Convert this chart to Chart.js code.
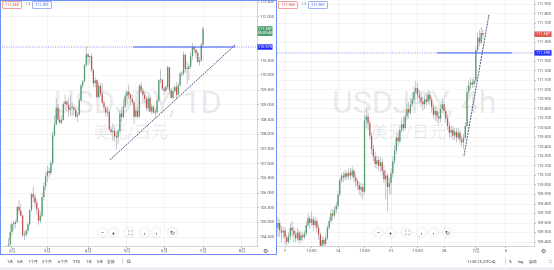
<!DOCTYPE html>
<html><head><meta charset="utf-8">
<script src="https://cdn.jsdelivr.net/npm/chart.js@4.4.1/dist/chart.umd.min.js"></script>
<style>
html,body{margin:0;padding:0;background:#fff;width:554px;height:270px;overflow:hidden;font-family:Roboto,'Noto Sans CJK SC',sans-serif;}
.a{position:absolute;white-space:nowrap;}
canvas{position:absolute;}
.wm{position:absolute;color:rgba(120,123,134,0.16);font-family:Roboto,'Noto Sans CJK SC',sans-serif;white-space:nowrap;line-height:1;}
.btn{position:absolute;width:9px;height:9px;border-radius:50%;background:#fff;box-shadow:0 0 1.5px rgba(0,0,0,0.25);color:#333;font-size:6px;line-height:9px;text-align:center;}
.tb{position:absolute;top:259px;font-size:3.8px;color:#333;white-space:nowrap;}
.box{position:absolute;top:1px;height:6px;font-size:3.8px;line-height:6px;padding:0 2px;border:0.6px solid;border-radius:1px;white-space:nowrap;}
</style></head><body>

<div class="wm" style="left:54px;top:86px;font-size:32px;">USDJPY, 1D</div>
<div class="wm" style="left:93px;top:124px;font-size:17px;">美元/日元</div>
<div class="wm" style="left:332px;top:86px;font-size:32px;">USDJPY, 4h</div>
<div class="wm" style="left:371px;top:124px;font-size:17px;">美元/日元</div>

<canvas id="left" width="275" height="255" style="left:2px;top:0px;width:275px;height:255px"></canvas>
<canvas id="right" width="277" height="255" style="left:277px;top:0px;width:277px;height:255px"></canvas>

<div class="a" style="left:0;top:0;width:275px;height:253px;border:1.2px solid #6d90f2;pointer-events:none;"></div>

<div class="box" style="left:2px;border-color:#f2a19e;color:#e0504b">111.580</div>
<div class="a" style="left:25px;top:1px;font-size:3.8px;line-height:6px;color:#777">1.3</div>
<div class="box" style="left:32px;border-color:#9fb1f6;color:#3a5cf5">111.591</div>
<div class="box" style="left:278px;border-color:#f2a19e;color:#e0504b">111.580</div>
<div class="a" style="left:301px;top:1px;font-size:3.8px;line-height:6px;color:#777">1.3</div>
<div class="box" style="left:308px;border-color:#9fb1f6;color:#3a5cf5">111.591</div>

<div class="btn" style="left:98px;top:228px">−</div>
<div class="btn" style="left:109px;top:228px">+</div>
<div class="btn" style="left:125px;top:228px">⛶</div>
<div class="btn" style="left:140px;top:228px">‹</div>
<div class="btn" style="left:152px;top:228px">›</div>
<div class="btn" style="left:168px;top:228px">↻</div>
<div class="btn" style="left:374px;top:228px">−</div>
<div class="btn" style="left:386px;top:228px">+</div>
<div class="btn" style="left:402px;top:228px">⛶</div>
<div class="btn" style="left:417px;top:228px">‹</div>
<div class="btn" style="left:429px;top:228px">›</div>
<div class="btn" style="left:443px;top:228px">↻</div>

<div class="a" style="left:263px;top:247px;font-size:6px;color:#555">⚙</div>
<div class="a" style="left:541px;top:247px;font-size:6px;color:#555">⚙</div>

<div class="tb" style="left:7px">1天</div>
<div class="tb" style="left:17px">5天</div>
<div class="tb" style="left:28px">1个月</div>
<div class="tb" style="left:42px">3个月</div>
<div class="tb" style="left:58px">6个月</div>
<div class="tb" style="left:73px">YTD</div>
<div class="tb" style="left:86px">1年</div>
<div class="tb" style="left:97px">5年</div>
<div class="tb" style="left:107px">全部</div>
<div class="a" style="left:122px;top:258px;width:0.6px;height:7px;background:#d5d7dc"></div>
<div class="tb" style="left:127px;font-size:5px;top:258px">⧉</div>
<div class="tb" style="left:467px">11:50:15 (UTC-4)</div>
<div class="a" style="left:505px;top:258px;width:0.6px;height:7px;background:#d5d7dc"></div>
<div class="tb" style="left:509px">%</div>
<div class="tb" style="left:518px">log</div>
<div class="tb" style="left:529px">自动</div>
<div class="tb" style="left:549px">⛶</div>
<div class="a" style="left:0;top:267px;width:554px;height:3px;background:#eceef2"></div>

<script>
// ---------- LEFT: USDJPY 1D (x = trading-day index, 0 = 2021-02-01) ----------
const leftTickIdx = [0, 20, 43, 65, 86, 108, 130];
const leftTickLabels = ['2月', '3月', '4月', '5月', '6月', '7月', '8月'];
const leftPriceTicks = [112.5, 112.0, 110.5, 110.0, 109.5, 109.0, 108.5, 108.0, 107.5, 107.0, 106.5, 106.0, 105.5, 105.0, 104.5];
const leftStart = -4;
const leftFirstOpen = 103.60;
const leftClose = [103.68,104.08,104.25,104.68,
 104.95,104.95,105.02,105.53,105.40,105.23,104.57,104.58,104.72,104.94,105.42,105.97,105.86,105.68,105.44,105.06,105.23,105.87,106.23,106.58,
 106.75,106.68,107.02,107.96,108.33,108.90,108.50,108.40,108.49,109.03,109.12,109.01,108.84,108.90,108.91,108.84,108.61,108.67,109.16,109.66,109.80,110.36,110.72,
 110.63,110.65,110.19,109.74,109.84,109.27,109.65,109.38,109.07,108.92,108.74,108.77,108.16,108.08,108.11,107.93,107.89,108.11,108.71,108.59,108.95,109.31,
 109.44,109.35,109.21,109.09,108.60,108.80,108.60,109.65,109.48,109.35,109.21,108.89,109.22,108.78,108.94,108.74,108.75,109.15,109.84,109.85,109.56,
 109.48,109.61,110.28,109.50,109.24,109.47,109.61,109.35,109.67,110.06,110.06,110.71,110.23,110.22,110.32,110.66,110.97,110.88,110.77,110.46,110.51,111.05,111.59];
const leftHigh = [103.85,104.16,104.47,104.94,
 105.00,105.06,105.08,105.58,105.76,105.64,105.27,104.70,104.78,105.02,105.45,106.01,106.22,105.95,105.80,105.51,105.37,106.00,106.38,106.69,
 106.92,106.86,107.11,108.09,108.64,109.23,109.02,108.85,108.64,109.12,109.35,109.15,109.26,109.35,109.08,109.00,108.92,108.76,109.21,109.72,109.85,110.39,110.97,
 110.76,110.68,110.76,110.23,109.96,109.87,109.78,109.75,109.75,109.15,108.94,108.95,108.84,108.27,108.37,108.27,108.08,108.20,108.79,108.93,109.22,109.43,
 109.51,109.69,109.39,109.35,109.17,108.92,108.95,109.71,109.79,109.58,109.45,109.29,109.32,109.28,109.03,108.98,108.89,109.23,109.87,110.20,109.90,
 109.60,109.67,110.33,110.30,109.56,109.60,109.67,109.79,109.76,110.13,110.16,110.82,110.72,110.47,110.40,110.79,111.11,111.01,110.90,110.84,110.63,111.11,111.66];
const leftLow = [103.55,103.58,103.95,104.20,
 104.55,104.75,104.80,104.98,105.29,105.20,104.50,104.40,104.51,104.60,104.86,105.37,105.70,105.53,105.27,104.92,104.97,105.17,105.75,106.10,
 106.38,106.52,106.62,106.95,107.92,108.29,108.40,108.34,108.35,108.47,108.84,108.80,108.61,108.64,108.61,108.65,108.55,108.41,108.63,109.12,109.55,109.80,110.28,
 110.36,110.39,110.10,109.62,109.60,109.22,109.24,109.28,109.03,108.80,108.61,108.61,108.12,107.97,107.78,107.75,107.48,107.69,108.05,108.42,108.55,108.90,
 109.05,109.22,108.98,109.00,108.34,108.56,108.52,108.57,109.42,109.11,109.10,108.80,108.76,108.75,108.68,108.70,108.56,108.70,109.10,109.74,109.50,
 109.33,109.43,109.54,109.36,109.20,109.20,109.43,109.19,109.34,109.62,109.97,109.99,110.10,109.71,109.84,110.24,110.54,110.75,110.58,110.45,110.33,110.47,111.00];
const leftLevel = 110.97;
const leftLevelSolid = [68.4, 126.1];
const leftTrend = [[55.4, 107.13], [126.1, 111.04]];
const leftLast = 111.587;

// ---------- RIGHT: USDJPY 4h (x = 4h-bar index, 0 = 2021-06-07 first bar) ----------
const rightTickIdx = [0, 15, 30, 45, 60, 75, 90, 108, 125];
const rightTickLabels = ['7', '13:00', '14', '13:00', '21', '13:00', '28', '7月', '5'];
const rightPriceTicks = [111.9, 111.8, 111.7, 111.5, 111.3, 111.2, 111.1, 111.0, 110.9, 110.8, 110.7, 110.6, 110.5, 110.4, 110.3, 110.2, 110.1, 110.0, 109.9, 109.8, 109.7, 109.6, 109.5, 109.4];
const rightStart = -5;
const rightFirstOpen = 109.78;
const rightClose = [109.55,109.60,109.52,109.50,109.52,
 109.45,109.40,109.46,109.55,109.52,109.48, 109.44,109.50,109.42,109.47,109.45,109.49,
 109.58,109.65,109.60,109.64,109.58,109.62, 109.55,109.48,109.36,109.42,109.38,109.44,
 109.55,109.62,109.70,109.68,109.74,109.78,
 109.90,110.05,110.10,110.08,110.12,110.09, 110.13,110.10,110.15,110.08,110.04,110.00,
 109.95,109.98,109.93,110.68,110.72,110.65, 110.52,110.38,110.30,110.22,110.26,110.20,
 110.24,110.15,110.06,110.10,109.98,110.02,
 110.12,110.25,110.36,110.50,110.46,110.58, 110.64,110.60,110.72,110.80,110.76,110.85,
 110.90,110.98,111.02,110.95,110.92,110.88, 110.85,110.90,110.88,110.95,110.90,110.82,
 110.74,110.78,110.72,110.70,110.80,110.85,
 110.78,110.70,110.62,110.55,110.58,110.52, 110.56,110.50,110.55,110.48,110.45,110.50,
 110.62,110.98,111.05,111.08,111.06,111.10, 111.42,111.55,111.50,111.60,111.58];
const rightHigh = [109.80,109.66,109.64,109.57,109.56,
 109.55,109.48,109.50,109.60,109.62,109.56, 109.52,109.55,109.53,109.51,109.50,109.52,
 109.62,109.70,109.68,109.72,109.67,109.66, 109.65,109.58,109.50,109.46,109.45,109.48,
 109.58,109.66,109.74,109.75,109.78,109.82,
 109.94,110.08,110.13,110.14,110.16,110.15, 110.17,110.18,110.20,110.17,110.12,110.07,
 110.04,110.02,110.01,110.74,110.82,110.76, 110.68,110.55,110.42,110.35,110.31,110.30,
 110.30,110.28,110.20,110.16,110.12,110.08,
 110.18,110.30,110.42,110.55,110.56,110.62, 110.70,110.72,110.78,110.86,110.88,110.92,
 110.98,111.04,111.10,111.08,111.00,110.97, 110.93,110.95,110.96,111.00,110.99,110.93,
 110.86,110.84,110.82,110.77,110.85,110.90,
 110.88,110.82,110.74,110.66,110.63,110.62, 110.60,110.60,110.60,110.58,110.52,110.54,
 110.66,111.04,111.10,111.13,111.12,111.14, 111.46,111.60,111.63,111.66,111.64];
const rightLow = [109.48,109.46,109.45,109.40,109.44,
 109.37,109.36,109.38,109.42,109.45,109.40, 109.40,109.41,109.38,109.40,109.41,109.43,
 109.46,109.55,109.54,109.57,109.52,109.55, 109.50,109.42,109.33,109.32,109.34,109.35,
 109.42,109.52,109.60,109.63,109.65,109.70,
 109.75,109.88,110.02,110.03,110.05,110.05, 110.06,110.05,110.07,110.03,109.98,109.95,
 109.90,109.88,109.85,109.90,110.60,110.58, 110.48,110.32,110.25,110.18,110.17,110.15,
 110.14,110.10,110.02,109.85,109.72,109.90,
 109.90,110.08,110.22,110.33,110.40,110.44, 110.55,110.56,110.58,110.68,110.70,110.74,
 110.82,110.86,110.95,110.90,110.86,110.82, 110.78,110.80,110.83,110.85,110.84,110.76,
 110.70,110.68,110.66,110.64,110.66,110.76,
 110.74,110.65,110.58,110.50,110.50,110.47, 110.48,110.45,110.47,110.44,110.40,110.38,
 110.48,110.60,110.94,111.00,111.02,111.03, 111.08,111.40,111.46,111.48,111.54];
const rightLevel = 111.39;
const rightLevelSolid = [86.0, 128.5];
const rightTrend = [[101.3, 110.31], [115.4, 111.79]];
const rightLast = 111.587;

// ---------- drawing ----------
const UP = '#519d6e', DOWN = '#c2544f', WICK = '#a9adb4';
const GRID = 'rgba(42,46,57,0.05)';
const FONT = "Roboto, 'Noto Sans CJK SC', sans-serif";

function candleSets(start, firstOpen, closes, highs, lows) {
  const bodies = [], wicks = [], colors = [];
  let o = firstOpen;
  for (let i = 0; i < closes.length; i++) {
    const x = start + i, c = closes[i];
    bodies.push({x: x, y: [o, c]});
    wicks.push({x: x, y: [lows[i], highs[i]]});
    colors.push(c >= o ? UP : DOWN);
    o = c;
  }
  return {bodies, wicks, colors};
}

const tagPlugin = {
  id: 'tags',
  afterDraw(chart, args, opts) {
    const {ctx, chartArea} = chart;
    const y = chart.scales.y;
    (opts.items || []).forEach(t => {
      const py = y.getPixelForValue(t.value);
      const lh = 4.4;
      const h = t.lines.length * lh + 1;
      const x0 = chartArea.right + 0.5;
      ctx.save();
      ctx.fillStyle = t.bg;
      ctx.fillRect(x0, py - (t.lines.length > 1 ? lh / 2 + 0.5 : h / 2), t.w, h);
      ctx.fillStyle = t.fg;
      ctx.font = '3.8px ' + FONT;
      ctx.textAlign = 'center';
      ctx.textBaseline = 'middle';
      t.lines.forEach((s, i) => ctx.fillText(s, x0 + t.w / 2, py + i * lh + 0.2));
      ctx.restore();
    });
  }
};

function build(id, o) {
  const cs = candleSets(o.start, o.firstOpen, o.closes, o.highs, o.lows);
  return new Chart(document.getElementById(id), {
    type: 'bar',
    data: {datasets: [
      {type: 'line', data: [{x: o.xmin, y: o.level}, {x: o.xmax, y: o.level}], borderColor: '#7774ee', borderWidth: 0.8, borderDash: [1, 1.3], pointRadius: 0, order: 0},
      {type: 'line', data: [{x: o.solid[0], y: o.level}, {x: o.solid[1], y: o.level}], borderColor: '#3a63fb', borderWidth: 1.0, pointRadius: 0, order: 0},
      {type: 'line', data: o.trend.map(p => ({x: p[0], y: p[1]})), borderColor: '#2e336e', borderWidth: 0.85, borderDash: [2, 1], pointRadius: 0, order: 0},
      {data: cs.bodies, backgroundColor: cs.colors, barThickness: 1.3, minBarLength: 1, grouped: false, borderWidth: 0, inflateAmount: 0, order: 1},
      {data: cs.wicks, backgroundColor: WICK, barThickness: 0.7, grouped: false, borderWidth: 0, inflateAmount: 0, order: 2}
    ]},
    options: {
      responsive: false, animation: false, devicePixelRatio: 1,
      layout: {padding: 0},
      events: [],
      plugins: {legend: {display: false}, tooltip: {enabled: false}, tags: {items: o.tags}},
      scales: {
        x: {
          type: 'linear', min: o.xmin, max: o.xmax, offset: false,
          afterBuildTicks: a => { a.ticks = o.xTicks.map(v => ({value: v})); },
          afterFit: s => { s.height = 9; s.paddingLeft = 0; s.paddingRight = 0; },
          ticks: {autoSkip: false, maxRotation: 0, padding: 0.5, font: {size: 4.2, family: FONT}, color: '#50535e',
                  callback: (v, i) => o.xLabels[i]},
          grid: {color: GRID, tickLength: 2, tickColor: '#b8bbc3', offset: false},
          border: {color: '#c5c8cf', width: 0.8}
        },
        y: {
          position: 'right', min: o.ymin, max: o.ymax,
          afterBuildTicks: a => { a.ticks = o.yTicks.map(v => ({value: v})); },
          afterFit: s => { s.width = 20; s.paddingTop = 0; s.paddingBottom = 0; },
          ticks: {autoSkip: false, padding: 1, font: {size: 3.8, family: FONT}, color: '#50535e',
                  callback: v => v.toFixed(3)},
          grid: {color: GRID, tickLength: 2, tickColor: '#b8bbc3'},
          border: {color: '#c5c8cf', width: 0.8}
        }
      }
    },
    plugins: [tagPlugin]
  });
}

build('left', {
  start: leftStart, firstOpen: leftFirstOpen, closes: leftClose, highs: leftHigh, lows: leftLow,
  xmin: -5.65, xmax: 138.5, ymin: 104.20, ymax: 112.57,
  xTicks: leftTickIdx, xLabels: leftTickLabels, yTicks: leftPriceTicks,
  level: leftLevel, solid: leftLevelSolid, trend: leftTrend,
  tags: [
    {value: leftLast, lines: ['111.587', '05:09:45'], bg: '#519d6e', fg: '#fff', w: 15},
    {value: leftLevel, lines: ['110.970'], bg: '#1f2bff', fg: '#fff', w: 15}
  ]
});
build('right', {
  start: rightStart, firstOpen: rightFirstOpen, closes: rightClose, highs: rightHigh, lows: rightLow,
  xmin: -4.53, xmax: 140.9, ymin: 109.358, ymax: 111.947,
  xTicks: rightTickIdx, xLabels: rightTickLabels, yTicks: rightPriceTicks,
  level: rightLevel, solid: rightLevelSolid, trend: rightTrend,
  tags: [
    {value: rightLast, lines: ['111.587'], bg: '#e0504b', fg: '#fff', w: 17},
    {value: rightLevel, lines: ['111.390'], bg: '#1f2bff', fg: '#fff', w: 17}
  ]
});
</script>
</body></html>
